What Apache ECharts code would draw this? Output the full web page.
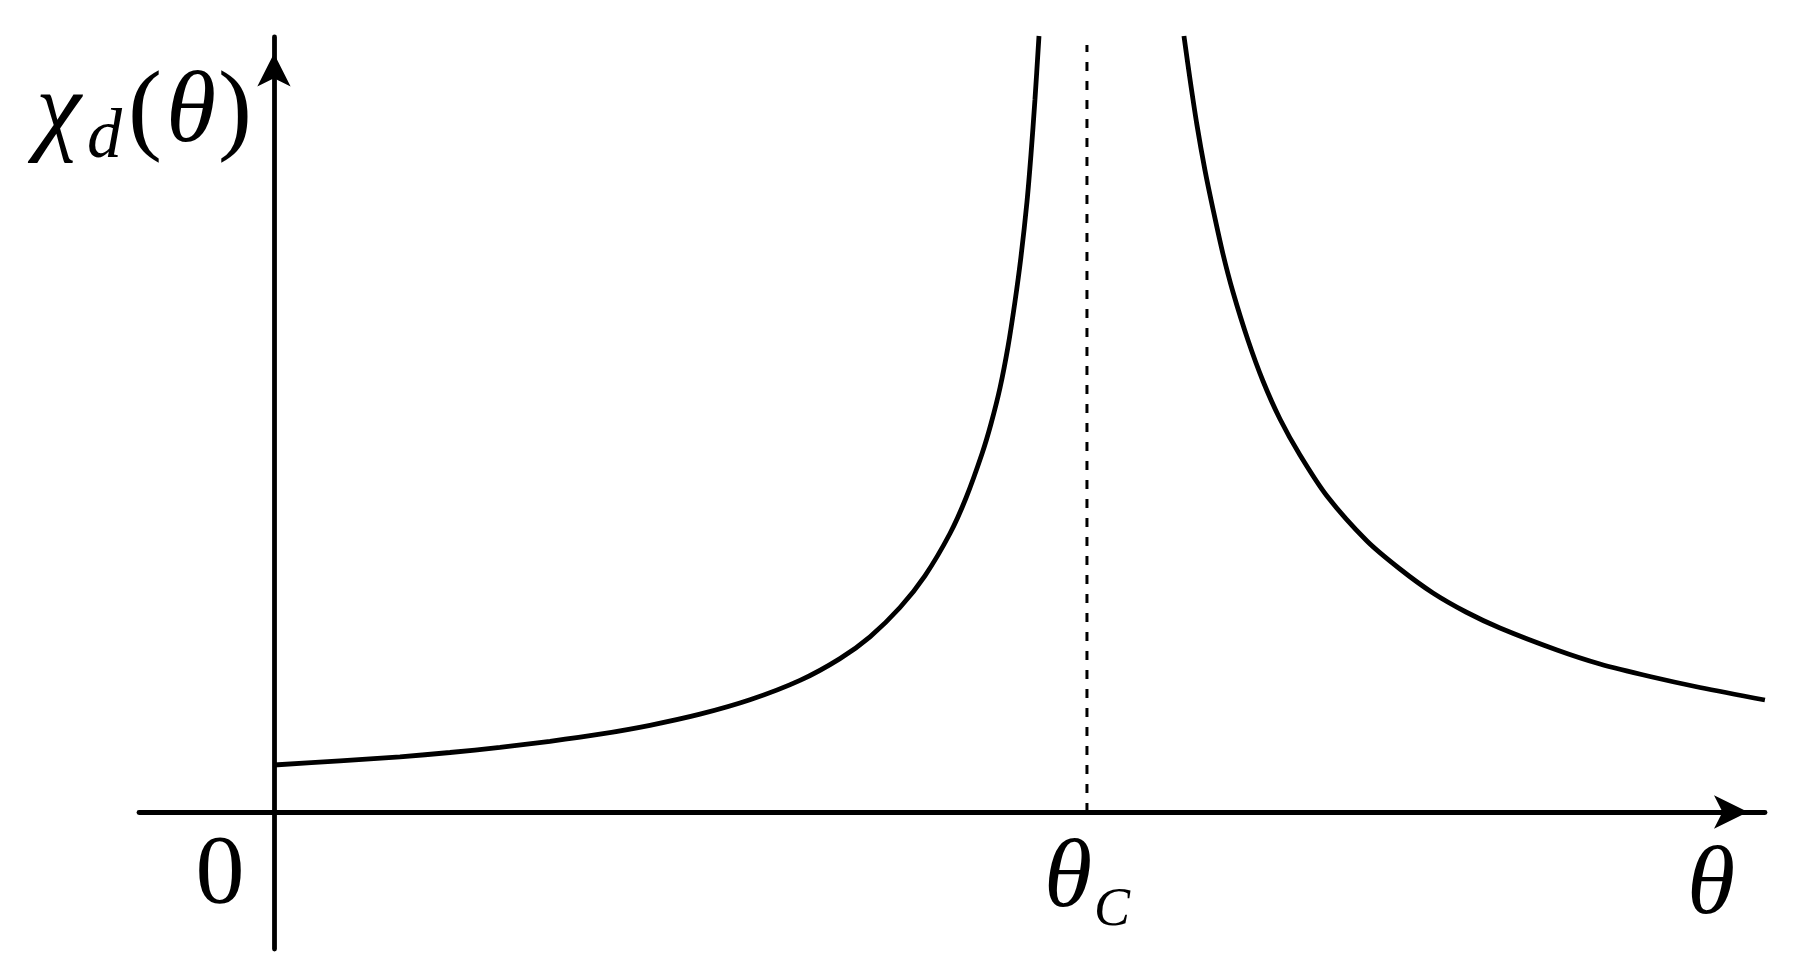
<!DOCTYPE html>
<html>
<head>
<meta charset="utf-8">
<title>χd(θ)</title>
<script src="https://cdn.jsdelivr.net/npm/echarts@6/dist/echarts.min.js"></script>
<style>
  html, body { margin: 0; padding: 0; background: #fff; }
  #chart { width: 1806px; height: 975px; }
</style>
</head>
<body>
<div id="chart"></div>
<script>
const belowTheta = [0, 0.0812, 0.155, 0.2165, 0.278, 0.3395, 0.401, 0.4625, 0.524, 0.5855, 0.647, 0.6962, 0.7331,
  0.770, 0.8007, 0.8315, 0.8512, 0.8708, 0.8819, 0.893, 0.9028, 0.9114, 0.9188, 0.9262, 0.9311, 0.936, 0.941]
const belowChi = [0.47, 0.512, 0.552, 0.595, 0.646, 0.707, 0.778, 0.867, 0.978, 1.122, 1.316, 1.534, 1.752,
  2.045, 2.362, 2.785, 3.14, 3.58, 3.88, 4.24, 4.65, 5.10, 5.55, 6.10, 6.57, 7.12, 7.76]

const aboveTheta = [1.1193, 1.1267, 1.1353, 1.1451, 1.155, 1.1673, 1.1796, 1.198, 1.2165, 1.2374, 1.262,
  1.2952, 1.3444, 1.385, 1.4256, 1.4662, 1.508, 1.5781, 1.631, 1.6925, 1.754, 1.8339]
const aboveChi = [7.76, 7.33, 6.87, 6.42, 6.03, 5.58, 5.20, 4.72, 4.31, 3.93, 3.57,
  3.16, 2.71, 2.43, 2.19, 2.00, 1.84, 1.62, 1.48, 1.355, 1.245, 1.12]

const criticalTheta = 1
const dashTheta = [criticalTheta, criticalTheta]
const dashChi   = [0, 7.67]

const xTickValues = [0, criticalTheta]
const xRange = [-0.166, 1.834]
const yRange = [-1.37, 7.75]

const ink = '#000'
const serif = '"Liberation Serif", "DejaVu Serif", serif'
const strokeW = 4.8

const zip = (xs, ys) => xs.map((x, i) => [x, ys[i]])

const chart = echarts.init(document.getElementById('chart'))

chart.setOption({
  backgroundColor: '#fff',
  animation: false,
  grid: { left: 139, right: 41, top: 37, bottom: 26, outerBoundsMode: 'none', containLabel: false },
  xAxis: {
    type: 'value',
    min: xRange[0],
    max: xRange[1],
    name: '{n|θ}',
    nameLocation: 'end',
    nameGap: -54,
    nameTextStyle: {
      align: 'center',
      verticalAlign: 'middle',
      rich: {
        n: { fontFamily: serif, fontStyle: 'italic', fontSize: 98, lineHeight: 98, color: ink, padding: [150, 0, 0, 0] },
      },
    },
    axisLine: {
      onZero: true,
      symbol: ['none', 'arrow'],
      symbolSize: [25, 34],
      symbolOffset: [0, -17],
      lineStyle: { color: ink, width: strokeW },
    },
    axisTick: { show: false },
    splitLine: { show: false },
    axisLabel: {
      customValues: xTickValues,
      margin: -129,
      color: ink,
      formatter: v => v === 0 ? '{z|0}' : '{t|θ}{s|C}',
      rich: {
        z: { fontFamily: serif, fontSize: 98, lineHeight: 112, color: ink, padding: [0, 108, 0, 0] },
        t: { fontFamily: serif, fontStyle: 'italic', fontSize: 98, lineHeight: 120, color: ink },
        s: { fontFamily: serif, fontStyle: 'italic', fontSize: 54, lineHeight: 54, color: ink, padding: [62, 0, 0, 2] },
      },
    },
  },
  yAxis: {
    type: 'value',
    min: yRange[0],
    max: yRange[1],
    name: '{a|χ}{b|d}{c|(}{a|θ}{e|)}',
    nameLocation: 'end',
    nameGap: -77,
    nameTextStyle: {
      align: 'right',
      verticalAlign: 'middle',
      padding: [0, 22, 0, 0],
      rich: {
        a: { fontFamily: serif, fontStyle: 'italic', fontSize: 102, lineHeight: 124, color: ink },
        b: { fontFamily: serif, fontStyle: 'italic', fontSize: 70, lineHeight: 70, color: ink, padding: [50, 0, 0, 6] },
        c: { fontFamily: serif, fontSize: 102, lineHeight: 124, color: ink, padding: [0, 4, 0, 6] },
        e: { fontFamily: serif, fontSize: 102, lineHeight: 124, color: ink, padding: [0, 0, 0, 2] },
      },
    },
    axisLine: {
      onZero: true,
      symbol: ['none', 'arrow'],
      symbolSize: [25, 33],
      symbolOffset: [0, -16.5],
      lineStyle: { color: ink, width: strokeW },
    },
    axisTick: { show: false },
    axisLabel: { show: false },
    splitLine: { show: false },
  },
  series: [
    {
      name: 'below θC',
      type: 'line',
      data: zip(belowTheta, belowChi),
      smooth: 0.3,
      showSymbol: false,
      lineStyle: { color: ink, width: strokeW },
    },
    {
      name: 'above θC',
      type: 'line',
      data: zip(aboveTheta, aboveChi),
      smooth: 0.3,
      showSymbol: false,
      lineStyle: { color: ink, width: strokeW },
    },
    {
      name: 'θC',
      type: 'line',
      data: zip(dashTheta, dashChi),
      showSymbol: false,
      lineStyle: { color: ink, width: 3, type: [9, 10] },
    },
  ],
})
</script>
</body>
</html>
